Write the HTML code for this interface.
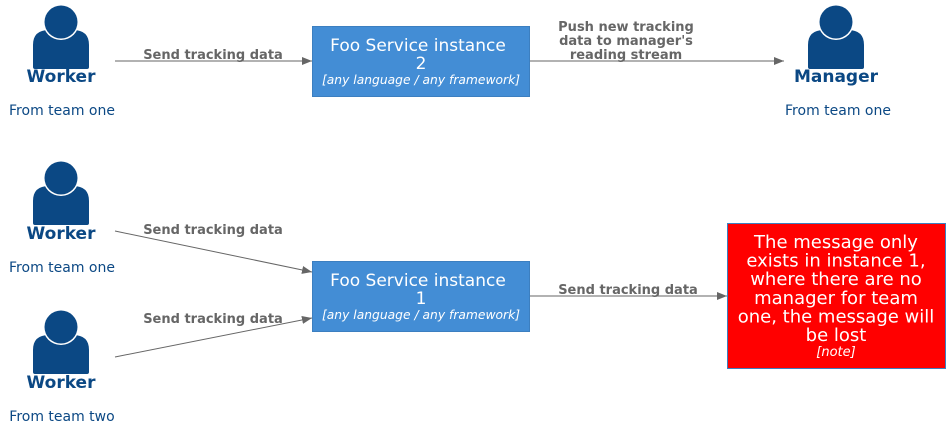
<!DOCTYPE html>
<html><head><meta charset="utf-8"><style>
body{margin:0;background:#fff}
svg{display:block;font-family:"DejaVu Sans","Liberation Sans",sans-serif}
.lbl{font-size:13px;font-weight:bold;fill:#666}
.wk{font-size:17px;font-weight:bold;fill:#0b4884}
.sub{font-size:14px;fill:#0b4884}
</style></head><body>
<svg width="951" height="428" viewBox="0 0 951 428" xmlns="http://www.w3.org/2000/svg">
<defs>
<g id="person">
<path d="M-28,30 L-28,8 Q-28,-7 -12,-7 Q0,1 12,-7 Q28,-7 28,8 L28,30 Q28,32 26,32 L-26,32 Q-28,32 -28,30 Z" fill="#0b4884"/>
<circle cx="0" cy="-15" r="18" fill="#fff"/>
<circle cx="0" cy="-15" r="16.5" fill="#0b4884"/>
</g>
<marker id="ah" markerWidth="10" markerHeight="8" refX="10" refY="4" orient="auto" markerUnits="userSpaceOnUse"><path d="M0,0 L10,4 L0,8 Z" fill="#666"/></marker>
</defs>
<use href="#person" x="61" y="37"/>
<text x="61" y="82" text-anchor="middle" class="wk">Worker</text>
<text x="62" y="115" text-anchor="middle" class="sub">From team one</text>
<use href="#person" x="61" y="193"/>
<text x="61" y="239" text-anchor="middle" class="wk">Worker</text>
<text x="62" y="272" text-anchor="middle" class="sub">From team one</text>
<use href="#person" x="61" y="342"/>
<text x="61" y="388" text-anchor="middle" class="wk">Worker</text>
<text x="62" y="421" text-anchor="middle" class="sub">From team two</text>
<use href="#person" x="836" y="37"/>
<text x="836" y="82" text-anchor="middle" class="wk">Manager</text>
<text x="838" y="115" text-anchor="middle" class="sub">From team one</text>

<rect x="312.5" y="26.5" width="217" height="70" fill="#438dd5" stroke="#3c7fc0"/>
<text x="418" y="51" text-anchor="middle" font-size="17" fill="#fff">Foo Service instance</text>
<text x="421" y="69" text-anchor="middle" font-size="17" fill="#fff">2</text>
<text x="421" y="84" text-anchor="middle" font-size="12.3" font-style="italic" fill="#fff">[any language / any framework]</text>

<rect x="312.5" y="261.5" width="217" height="70" fill="#438dd5" stroke="#3c7fc0"/>
<text x="418" y="286" text-anchor="middle" font-size="17" fill="#fff">Foo Service instance</text>
<text x="421" y="304" text-anchor="middle" font-size="17" fill="#fff">1</text>
<text x="421" y="319" text-anchor="middle" font-size="12.3" font-style="italic" fill="#fff">[any language / any framework]</text>

<rect x="727.5" y="223.5" width="218" height="145" fill="#f00" stroke="#3c7fc0"/>
<g font-size="18" fill="#fff" text-anchor="middle">
<text x="836" y="248">The message only</text>
<text x="836" y="266.6">exists in instance 1,</text>
<text x="836" y="285.2">where there are no</text>
<text x="836" y="303.8">manager for team</text>
<text x="836" y="322.4">one, the message will</text>
<text x="836" y="341">be lost</text>
</g>
<text x="836" y="356" text-anchor="middle" font-size="13" font-style="italic" fill="#fff">[note]</text>

<g stroke="#666" stroke-width="1" fill="none" marker-end="url(#ah)">
<line x1="115" y1="61" x2="312" y2="61"/>
<line x1="530" y1="61" x2="784" y2="61"/>
<line x1="115" y1="231" x2="312" y2="272"/>
<line x1="115" y1="357" x2="312" y2="318"/>
<line x1="530" y1="296" x2="727" y2="296"/>
</g>
<text x="213" y="59" text-anchor="middle" class="lbl">Send tracking data</text>
<text x="626" y="31" text-anchor="middle" class="lbl">Push new tracking</text>
<text x="626" y="45" text-anchor="middle" class="lbl">data to manager's</text>
<text x="626" y="59" text-anchor="middle" class="lbl">reading stream</text>
<text x="213" y="234" text-anchor="middle" class="lbl">Send tracking data</text>
<text x="213" y="323" text-anchor="middle" class="lbl">Send tracking data</text>
<text x="628" y="294" text-anchor="middle" class="lbl">Send tracking data</text>
</svg>
</body></html>
